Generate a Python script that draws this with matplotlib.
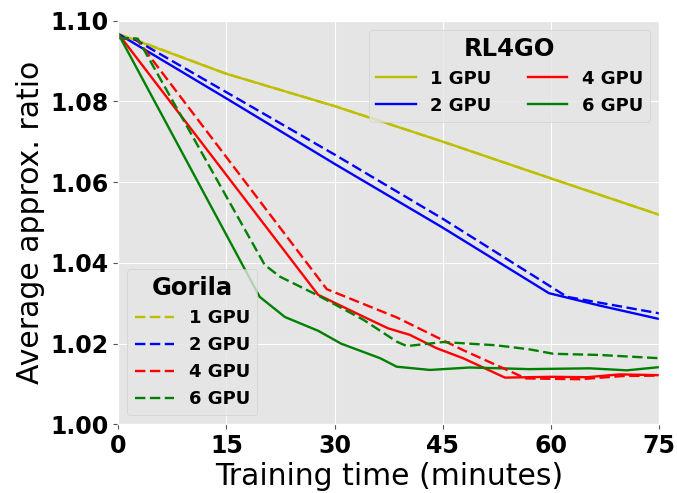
"""Average approx. ratio vs training time: RL4GO (solid) vs Gorila (dashed)."""

import matplotlib

matplotlib.use("Agg")
import matplotlib.pyplot as plt
from matplotlib.ticker import FormatStrFormatter

plt.style.use("ggplot")

GPU_LABELS = ["1 GPU", "2 GPU", "4 GPU", "6 GPU"]
GPU_COLORS = ["y", "b", "r", "g"]

# RL4GO, solid lines (minutes, ratio)
rl4go_1_t = [0, 15, 30, 45, 60, 75]
rl4go_1_v = [1.0967, 1.0868, 1.0788, 1.0700, 1.0609, 1.0519]
rl4go_2_t = [0, 15, 30, 45, 59.7, 66.8, 75]
rl4go_2_v = [1.0967, 1.0807, 1.0645, 1.0487, 1.0325, 1.0294, 1.0261]
rl4go_4_t = [0, 27.7, 33.5, 37.4, 40.4, 44.1, 47.8, 53.6, 60, 65, 69.5, 75]
rl4go_4_v = [1.0967, 1.0321, 1.0271, 1.0238, 1.0222, 1.0189, 1.0164, 1.0116,
             1.0118, 1.0117, 1.0124, 1.0122]
rl4go_6_t = [0, 19.6, 23.1, 27.7, 30.9, 36.3, 38.6, 43.2, 48.7, 53, 57, 61,
             65.4, 70.5, 75]
rl4go_6_v = [1.0967, 1.0316, 1.0266, 1.0232, 1.0200, 1.0164, 1.0143, 1.0135,
             1.0141, 1.0139, 1.0137, 1.0138, 1.0139, 1.0134, 1.0142]

# Gorila, dashed lines
gorila_1_t = [0, 2.3, 15, 30, 45, 60, 75]
gorila_1_v = [1.0957, 1.0953, 1.0868, 1.0788, 1.0700, 1.0609, 1.0519]
gorila_2_t = [0, 2.3, 30, 45, 62.2, 75]
gorila_2_v = [1.0957, 1.0953, 1.0668, 1.0509, 1.0316, 1.0275]
gorila_4_t = [0, 2.5, 28.9, 38.6, 47.8, 56.5, 64, 70, 75]
gorila_4_v = [1.0957, 1.0955, 1.0335, 1.0265, 1.0184, 1.0114, 1.0112, 1.0120,
              1.0121]
gorila_6_t = [0, 2.7, 20.3, 22.4, 27.5, 29.3, 34, 38.6, 40, 45, 52.4, 57,
              60.3, 66.8, 75]
gorila_6_v = [1.0957, 1.0955, 1.0395, 1.0366, 1.0321, 1.0304, 1.0259, 1.0205,
              1.0194, 1.0204, 1.0196, 1.0186, 1.0175, 1.0172, 1.0164]

X_TICKS = [0, 15, 30, 45, 60, 75]
Y_TICKS = [1.00, 1.02, 1.04, 1.06, 1.08, 1.10]

rl4go_series = [
    (rl4go_1_t, rl4go_1_v),
    (rl4go_2_t, rl4go_2_v),
    (rl4go_4_t, rl4go_4_v),
    (rl4go_6_t, rl4go_6_v),
]
gorila_series = [
    (gorila_1_t, gorila_1_v),
    (gorila_2_t, gorila_2_v),
    (gorila_4_t, gorila_4_v),
    (gorila_6_t, gorila_6_v),
]

fig = plt.figure(figsize=(6.77, 4.93), dpi=100)
ax = fig.add_axes([0.1747, 0.139, 0.7992, 0.8194])

rl_handles = []
for (t, v), color, label in zip(rl4go_series, GPU_COLORS, GPU_LABELS):
    (h,) = ax.plot(t, v, color=color, linewidth=1.7, label=label)
    rl_handles.append(h)

go_handles = []
for (t, v), color, label in zip(gorila_series, GPU_COLORS, GPU_LABELS):
    (h,) = ax.plot(t, v, color=color, linewidth=1.7, linestyle="--",
                   dashes=(4.4, 1.9), label=label)
    go_handles.append(h)

ax.set_xlim(0, 75)
ax.set_ylim(1.00, 1.10)
ax.set_xticks(X_TICKS)
ax.set_yticks(Y_TICKS)
ax.yaxis.set_major_formatter(FormatStrFormatter("%.2f"))
for lbl in ax.get_xticklabels() + ax.get_yticklabels():
    lbl.set_fontsize(17)
    lbl.set_fontweight("bold")
    lbl.set_color("black")

ax.set_xlabel("Training time (minutes)", fontsize=21.5, color="black", labelpad=3)
ax.set_ylabel("Average approx. ratio", fontsize=21.5, color="black", labelpad=4)

leg_font = {"size": 13, "weight": "bold"}
title_font = {"size": 17.5, "weight": "bold"}

leg_rl = ax.legend(
    handles=rl_handles, loc="upper right", ncol=2, prop=leg_font,
    title="RL4GO", title_fontproperties=title_font, handlelength=2.2,
)
ax.add_artist(leg_rl)
ax.legend(
    handles=go_handles, loc="lower left", prop=leg_font,
    title="Gorila", title_fontproperties=title_font, handlelength=2.2,
)

fig.savefig("out.png", dpi=100)
plt.close(fig)
